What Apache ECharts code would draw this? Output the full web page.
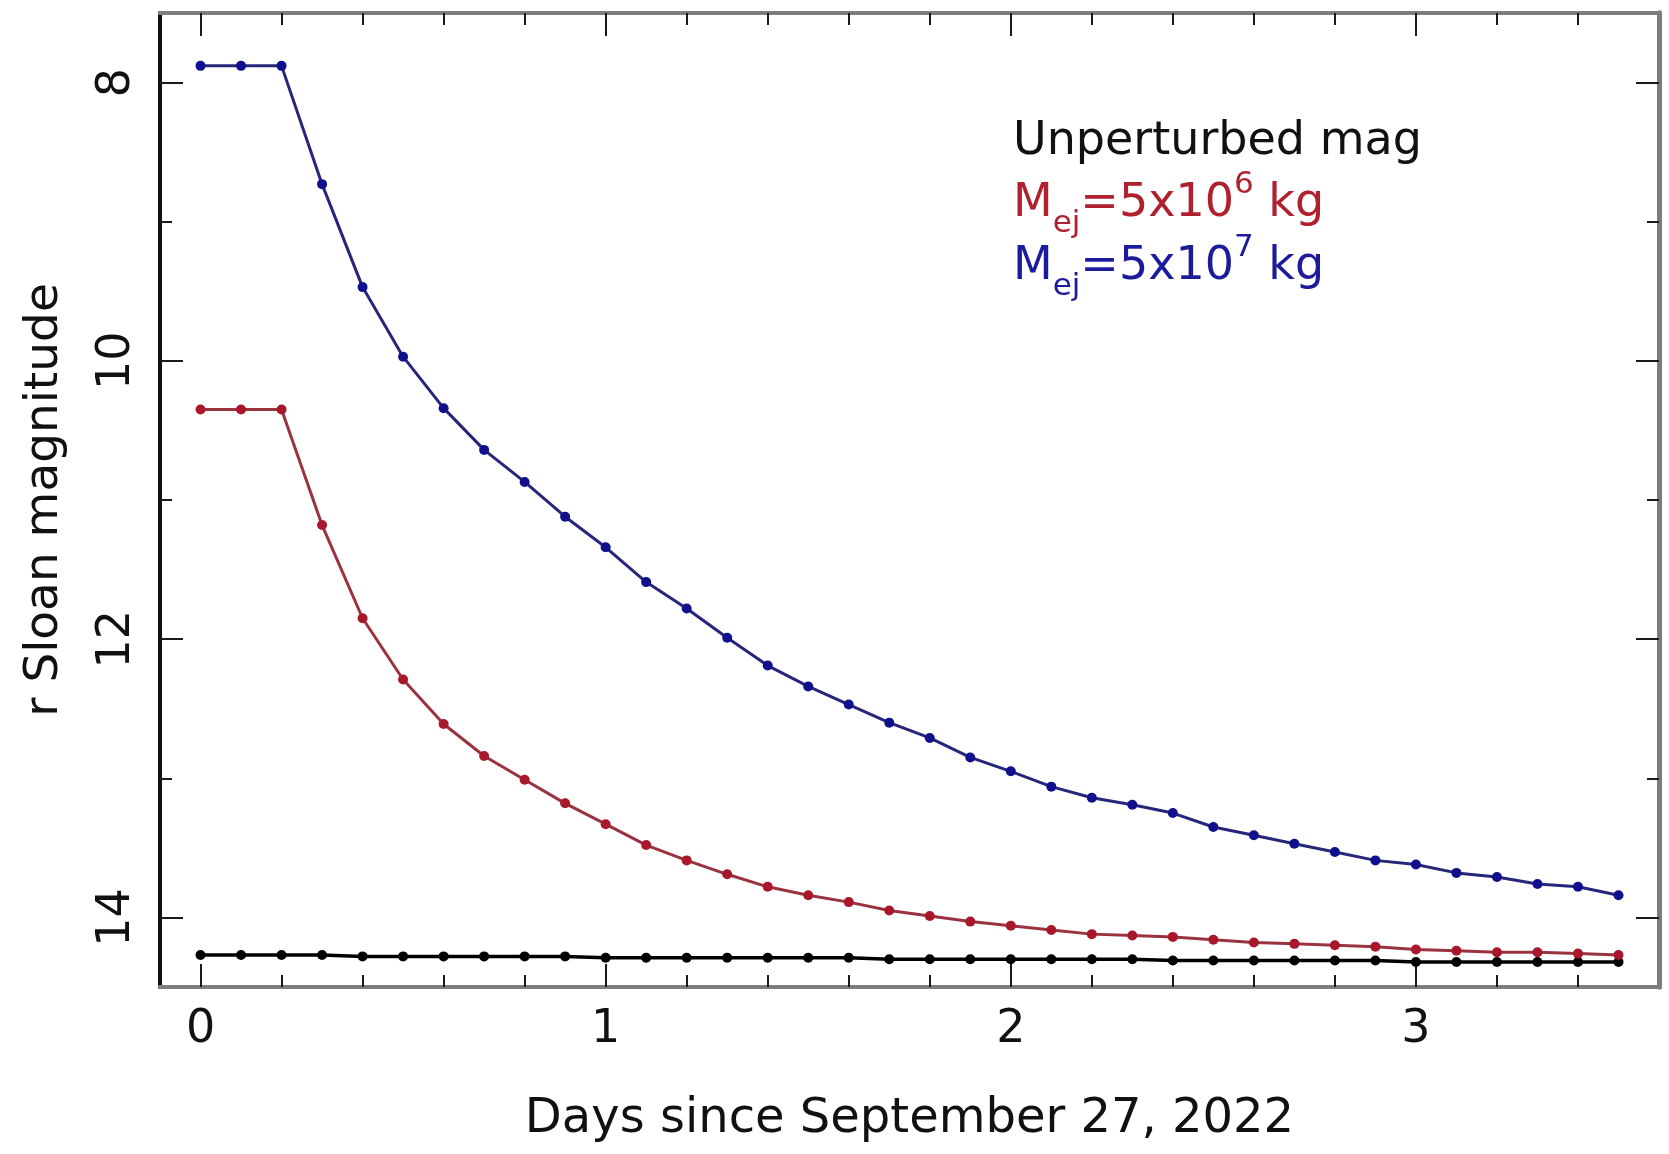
<!DOCTYPE html>
<html>
<head>
<meta charset="utf-8">
<script src="https://cdn.jsdelivr.net/npm/echarts@6/dist/echarts.min.js"></script>
<style>
  html, body { margin: 0; padding: 0; background: #ffffff; }
  #chart { width: 1669px; height: 1154px; }
</style>
</head>
<body>
<div id="chart"></div>
<script>
// Light curve of the ejecta cloud: r Sloan magnitude versus time
const days = [0, 0.1, 0.2, 0.3, 0.4, 0.5, 0.6, 0.7, 0.8, 0.9,
              1.0, 1.1, 1.2, 1.3, 1.4, 1.5, 1.6, 1.7, 1.8, 1.9,
              2.0, 2.1, 2.2, 2.3, 2.4, 2.5, 2.6, 2.7, 2.8, 2.9,
              3.0, 3.1, 3.2, 3.3, 3.4, 3.5];

const unperturbedMag = [14.27, 14.27, 14.27, 14.27, 14.28, 14.28, 14.28, 14.28, 14.28, 14.28,
                        14.29, 14.29, 14.29, 14.29, 14.29, 14.29, 14.29, 14.30, 14.30, 14.30,
                        14.30, 14.30, 14.30, 14.30, 14.31, 14.31, 14.31, 14.31, 14.31, 14.31,
                        14.32, 14.32, 14.32, 14.32, 14.32, 14.32];

// Ejecta mass 5x10^6 kg
const magEjecta6 = [10.35, 10.35, 10.35, 11.18, 11.85, 12.29, 12.61, 12.84, 13.01, 13.18,
                    13.33, 13.48, 13.59, 13.69, 13.78, 13.84, 13.89, 13.95, 13.99, 14.03,
                    14.06, 14.09, 14.12, 14.13, 14.14, 14.16, 14.18, 14.19, 14.20, 14.21,
                    14.23, 14.24, 14.25, 14.25, 14.26, 14.27];

// Ejecta mass 5x10^7 kg
const magEjecta7 = [7.88, 7.88, 7.88, 8.73, 9.47, 9.97, 10.34, 10.64, 10.87, 11.12,
                    11.34, 11.59, 11.78, 11.99, 12.19, 12.34, 12.47, 12.60, 12.71, 12.85,
                    12.95, 13.06, 13.14, 13.19, 13.25, 13.35, 13.41, 13.47, 13.53, 13.59,
                    13.62, 13.68, 13.71, 13.76, 13.78, 13.84];

const xMajorTicks = [0, 1, 2, 3];
const xMinorTicks = [0.2, 0.4, 0.6, 0.8, 1.2, 1.4, 1.6, 1.8, 2.2, 2.4, 2.6, 2.8, 3.2, 3.4];
const yMajorTicks = [8, 10, 12, 14];
const yMinorTicks = [9, 11, 13];

const xTitle = 'Days since September 27, 2022';
const yTitle = 'r Sloan magnitude';
const legendTitle = 'Unperturbed mag';

const FONT = 'DejaVu Sans';
const X_RANGE = [-0.1, 3.6];
const Y_RANGE = [7.5, 14.5];
const FRAME_GREY = '#7d7d7d';
const TICK_COLOR = '#1a1a1a';

function xAxisDef(position, tickValues, tickLength, withLabels) {
  const ax = {
    type: 'value',
    position: position,
    min: X_RANGE[0],
    max: X_RANGE[1],
    axisLine: { show: true, onZero: false, lineStyle: { color: FRAME_GREY, width: 4 } },
    axisTick: { show: true, inside: true, length: tickLength, customValues: tickValues,
                lineStyle: { color: TICK_COLOR, width: 2 } },
    axisLabel: { show: false },
    splitLine: { show: false }
  };
  if (withLabels) {
    ax.axisLabel = { show: true, customValues: xMajorTicks, margin: 20,
                     fontFamily: FONT, fontSize: 46, color: '#111' };
    ax.name = xTitle;
    ax.nameLocation = 'middle';
    ax.nameGap = 109;
    ax.nameTextStyle = { fontFamily: FONT, fontSize: 48, color: '#111' };
  }
  return ax;
}

function yAxisDef(position, tickValues, tickLength, withLabels) {
  const ax = {
    type: 'value',
    position: position,
    inverse: true,
    min: Y_RANGE[0],
    max: Y_RANGE[1],
    axisLine: { show: true, onZero: false,
                lineStyle: { color: position === 'left' ? '#111111' : FRAME_GREY,
                             width: position === 'left' ? 4 : 5 } },
    axisTick: { show: true, inside: true, length: tickLength, customValues: tickValues,
                lineStyle: { color: TICK_COLOR, width: 2 } },
    axisLabel: { show: false },
    splitLine: { show: false }
  };
  if (withLabels) {
    ax.axisLabel = { show: true, customValues: yMajorTicks, rotate: 90, margin: 20,
                     fontFamily: FONT, fontSize: 46, color: '#111' };
    ax.name = yTitle;
    ax.nameLocation = 'middle';
    ax.nameGap = 92;
    ax.nameRotate = 90;
    ax.nameTextStyle = { fontFamily: FONT, fontSize: 47, color: '#111' };
  }
  return ax;
}

function pairs(values) {
  return days.map((d, i) => [d, values[i]]);
}

function lineSeries(name, values, lineColor, dotColor, width) {
  return {
    name: name,
    type: 'line',
    xAxisIndex: 0,
    yAxisIndex: 0,
    data: pairs(values),
    symbol: 'circle',
    symbolSize: 10,
    showSymbol: true,
    lineStyle: { color: lineColor, width: width },
    itemStyle: { color: dotColor },
    emphasis: { disabled: true },
    animation: false
  };
}

const chart = echarts.init(document.getElementById('chart'), null, { renderer: 'canvas' });

const richLabel = {
  m: { fontFamily: FONT, fontSize: 46, lineHeight: 70, verticalAlign: 'middle' },
  s: { fontFamily: FONT, fontSize: 31, lineHeight: 14, verticalAlign: 'bottom' },
  p: { fontFamily: FONT, fontSize: 31, lineHeight: 26, verticalAlign: 'top' }
};

function massLabel(exp, color, y) {
  const rich = {};
  Object.keys(richLabel).forEach(k => { rich[k] = Object.assign({ fill: color }, richLabel[k]); });
  return {
    type: 'text',
    left: 1013,
    top: y,
    style: {
      text: '{m|M}{s|ej}{m|=5x10}{p|' + exp + '}{m| kg}',
      rich: rich,
      fill: color
    }
  };
}

chart.setOption({
  animation: false,
  backgroundColor: '#ffffff',
  grid: { left: 160, right: 10, top: 13, bottom: 167, containLabel: false },
  xAxis: [
    xAxisDef('bottom', xMajorTicks, 23, true),
    xAxisDef('bottom', xMinorTicks, 12, false),
    xAxisDef('top', xMajorTicks, 23, false),
    xAxisDef('top', xMinorTicks, 12, false)
  ],
  yAxis: [
    yAxisDef('left', yMajorTicks, 23, true),
    yAxisDef('left', yMinorTicks, 12, false),
    yAxisDef('right', yMajorTicks, 23, false),
    yAxisDef('right', yMinorTicks, 12, false)
  ],
  series: [
    lineSeries(legendTitle, unperturbedMag, '#000000', '#000000', 3.5),
    lineSeries('Mej=5x10^6 kg', magEjecta6, '#9a3340', '#a8182a', 3),
    lineSeries('Mej=5x10^7 kg', magEjecta7, '#26267a', '#10108c', 3)
  ],
  graphic: [
    {
      type: 'text',
      left: 1013,
      top: 119,
      style: { text: legendTitle, fontFamily: FONT, fontSize: 46, fill: '#111111' }
    },
    massLabel('6', '#b0202e', 169),
    massLabel('7', '#1c1c9a', 232)
  ]
});
</script>
</body>
</html>
